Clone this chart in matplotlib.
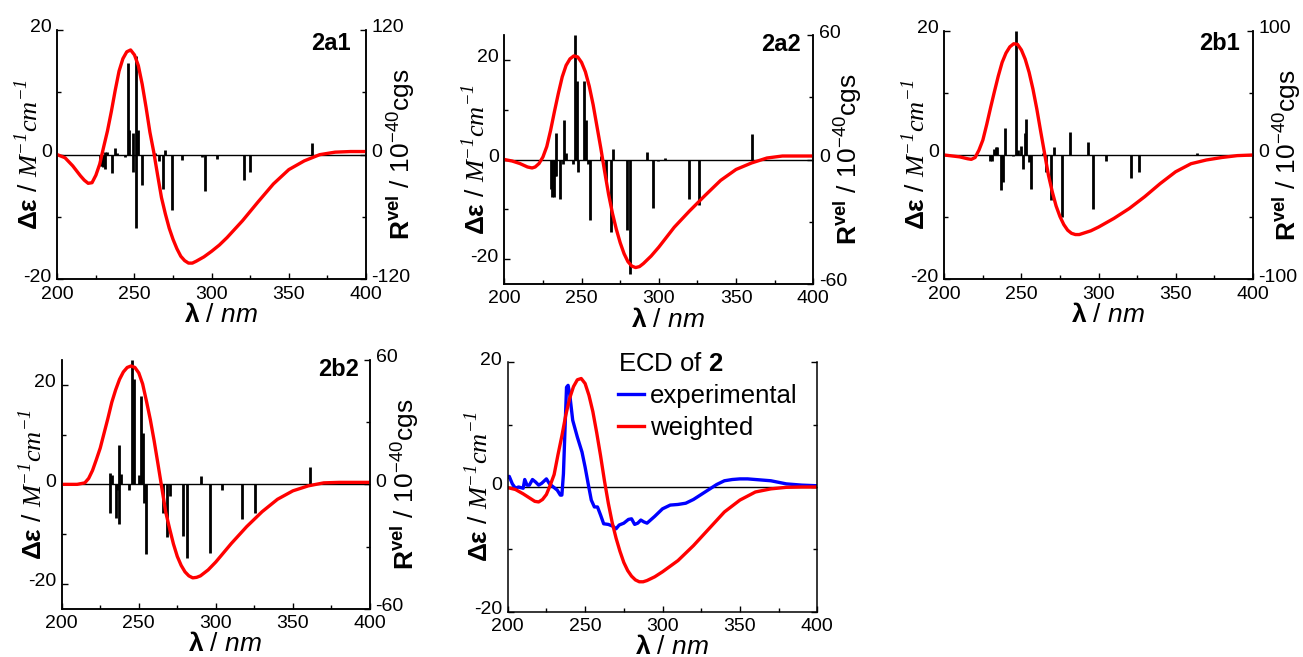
import matplotlib.pyplot as plt
from matplotlib.transforms import ScaledTranslation

plt.rcParams['font.family'] = ['Liberation Sans', 'DejaVu Sans']
plt.rcParams['axes.unicode_minus'] = False
plt.rcParams['mathtext.fontset'] = 'custom'
plt.rcParams['mathtext.rm'] = 'Liberation Sans'
plt.rcParams['mathtext.it'] = 'Liberation Sans:italic'
plt.rcParams['mathtext.bf'] = 'Liberation Sans:bold'
plt.rcParams['mathtext.sf'] = 'Liberation Serif:italic'

# calculated ECD curves (Δε)
wl_2a1 = [200, 205, 210, 215, 217.5, 220, 222.5, 225, 227.5, 230, 232.5, 235, 237.5, 240, 242.5, 245, 247.5,
          250, 252.5, 255, 257.5, 260, 262.5, 265, 267.5, 270, 272.5, 275, 277.5, 280, 282.5, 285, 287.5,
          290, 295, 300, 305, 310, 320, 330, 340, 350, 360, 370, 380, 390, 400]
de_2a1 = [0, -0.5, -1.8, -3.4, -4.1, -4.6, -4.5, -3.3, -1.5, 1.2, 3.8, 6.9, 10.3, 13.4, 15.4, 16.5, 16.8,
          16.0, 14.3, 11.3, 7.6, 3.6, 0.4, -3.3, -6.9, -9.5, -11.8, -13.6, -15.1, -16.3, -17.0, -17.4, -17.4,
          -17.1, -16.4, -15.5, -14.5, -13.3, -10.6, -7.6, -4.7, -2.4, -1.0, 0, 0.4, 0.5, 0.5]

wl_2a2 = [200, 205, 210, 215, 218, 220, 222.5, 225, 227.5, 230, 232.5, 235, 237.5, 240, 242.5, 245, 247.5,
          250, 252.5, 255, 257.5, 260, 262.5, 265, 267.5, 270, 272.5, 275, 277.5, 280, 282.5, 285, 287.5,
          290, 295, 300, 310, 320, 330, 340, 350, 360, 370, 380, 390, 400]
de_2a2 = [0, -0.3, -0.8, -1.5, -1.7, -1.5, -0.8, 0.5, 2.6, 5.9, 9.7, 13.3, 16.6, 18.9, 20.2, 20.8, 20.6,
          19.5, 17.6, 14.7, 11.0, 6.6, 2.2, -2.5, -7.0, -10.8, -14.0, -16.7, -18.9, -20.5, -21.4, -21.7, -21.5,
          -20.9, -19.4, -17.6, -13.6, -10.3, -7.2, -4.2, -2.0, -0.7, 0.3, 0.7, 0.7, 0.7]

wl_2b1 = [200, 210, 215, 217.5, 220, 222.5, 225, 227.5, 230, 232.5, 235, 237.5, 240, 242.5, 245, 247.5,
          250, 252.5, 255, 257.5, 260, 262.5, 265, 267.5, 270, 272.5, 275, 277.5, 280, 282.5, 285, 287.5,
          290, 295, 300, 310, 320, 330, 340, 350, 360, 370, 380, 390, 400]
de_2b1 = [0, -0.3, -0.6, -0.7, -0.4, 0.8, 2.4, 4.9, 7.6, 10.2, 12.7, 14.9, 16.4, 17.4, 17.9, 17.8,
          16.9, 15.4, 13.3, 10.6, 7.4, 3.8, 0.3, -3.2, -5.9, -8.2, -9.9, -11.2, -12.1, -12.6, -12.8, -12.8,
          -12.6, -12.2, -11.6, -10.2, -8.6, -6.7, -4.6, -2.7, -1.4, -0.8, -0.4, -0.1, 0]

wl_2b2 = [200, 210, 215, 217.5, 220, 222.5, 225, 227.5, 230, 232.5, 235, 237.5, 240, 242.5, 245, 247.5,
          250, 252.5, 255, 257.5, 260, 262.5, 265, 267.5, 270, 272.5, 275, 277.5, 280, 282.5, 285, 287.5,
          290, 295, 300, 310, 320, 330, 340, 350, 360, 370, 380, 390, 400]
de_2b2 = [0, 0, 0.3, 1.2, 2.8, 5.0, 7.3, 10.3, 13.3, 16.5, 19.0, 21.1, 22.6, 23.5, 23.8, 23.5,
          22.4, 20.2, 16.7, 13.0, 8.7, 4.0, -0.8, -5.6, -8.9, -12.0, -14.5, -16.3, -17.6, -18.4, -18.8, -18.7,
          -18.4, -17.2, -15.6, -11.9, -8.5, -5.5, -3.0, -1.3, -0.3, 0.3, 0.4, 0.4, 0.4]

wl_weighted = [200, 205, 210, 215, 217.5, 220, 222.5, 225, 227.5, 230, 232.5, 235, 237.5, 240, 242.5, 245,
               247.5, 250, 252.5, 255, 257.5, 260, 262.5, 265, 267.5, 270, 272.5, 275, 277.5, 280, 282.5,
               285, 287.5, 290, 295, 300, 310, 320, 330, 340, 350, 360, 370, 380, 390, 400]
de_weighted = [-0.1, -0.4, -1.1, -1.9, -2.3, -2.4, -2.0, -1.2, 0.3, 2.0, 5.2, 8.2, 11.5, 14.2, 16.1, 17.2,
               17.4, 16.6, 14.7, 12.1, 8.7, 5.0, 1.0, -2.6, -5.7, -8.2, -10.3, -12.1, -13.4, -14.3, -14.9,
               -15.2, -15.2, -15.0, -14.4, -13.6, -11.8, -9.4, -6.7, -4.0, -2.1, -0.8, -0.3, -0.05, 0, 0]

wl_exp = [200, 201, 203, 205, 207, 210, 211, 212.5, 214, 216, 218, 220, 222, 225, 227, 230, 232, 234, 235,
          236, 237, 238, 239, 240, 242, 245, 248, 250, 252, 254, 256, 258, 260, 262, 265, 268, 270, 272,
          275, 278, 280, 282, 284, 286, 288, 290, 295, 300, 305, 310, 315, 320, 325, 330, 335, 340, 345,
          350, 355, 360, 370, 380, 390, 400]
de_exp = [1.6, 1.7, 0.5, -0.2, 0, -0.2, 1.2, 0.3, 0.3, 1.2, 0.8, 0.3, 0.6, 1.3, 0.5, -0.1, -0.5, -1.3, -1.3,
          2.1, 9.1, 16.0, 16.3, 15.0, 10.7, 8.0, 5.6, 3.2, 0.5, -2.1, -3.2, -3.2, -4.5, -5.9, -6.0, -6.3, -6.7, -6.1,
          -5.8, -5.2, -5.1, -6.0, -5.8, -5.3, -5.6, -5.8, -4.7, -3.5, -2.9, -2.8, -2.6, -2.0, -1.2, -0.4, 0.4, 1.0, 1.2,
          1.3, 1.3, 1.2, 1.0, 0.5, 0.3, 0.2]

# rotational strengths (R vel, 10^-40 cgs)
st_wl_2a1 = [227.6, 228.7, 229.8, 230.7, 230.7, 232, 235.4, 237.4, 238.4, 243.8, 245.6, 246.7, 248.8, 248.8,
             251, 251, 252.3, 254.9, 263.5, 265.6, 268.7, 270, 274.5, 280.6, 294, 295.5, 303.7, 321.2, 324.8, 365.2]
st_r_2a1 = [-11, -11, -12, -14, 3, 3, -18, 6, 2, -2, 88, 24, 21, -17,
            95, -71, 24, -29, 2, -6, -33, 4, -53, -5, -2, -35, -4.5, -24, -17, 11.5]

st_wl_2a2 = [230.2, 231, 231.9, 232.8, 233.2, 233.7, 235.8, 237.8, 238.6, 239.9, 244.4, 245.7, 246.8, 247.9,
             251.6, 252.7, 254.2, 255.3, 262.4, 265.8, 268.8, 270.1, 279.6, 281.6, 292.1, 296.4, 299.7, 304.2,
             319.3, 325.8, 360.5]
st_r_2a2 = [-14, -18, -18, -8, 13, -8, -19, -2, 19, 3, -2, 60, 38, -6,
            38, 19, -2, -29, 1.6, -11, -35, 5, -34, -55, 3.7, -23.6, -0.5, 0.5,
            -18.8, -22, 12.5]

st_wl_2b1 = [229.6, 230.9, 232.2, 233.3, 234.2, 237, 238.3, 239.1, 244.3, 246.5, 247.6, 248.6, 249.9, 250.8,
             252.1, 252.7, 254.7, 256, 264.2, 265.7, 269.4, 270.9, 276.5, 281.5, 293.4, 296.6, 304.9, 320.9,
             326.5, 363.7]
st_r_2b1 = [-5, -5, 4.5, 6.7, 6.7, -28, -21.4, 22, -1, 100, 4, 1, 7, -11,
            18, 29, -5.4, -27, 1.3, -13.4, -36, 6.7, -50, 18.8, 10.7, -43.7, -4.8, -18.8,
            -14, 1.9]

st_wl_2b2 = [231.4, 231.4, 232.9, 235.5, 236.1, 237.2, 237.2, 238.3, 243.9, 245.6, 246.7, 250.2, 251.2, 252.5,
             253.4, 254.7, 265.5, 268.1, 270.3, 278.9, 281.3, 290.2, 296, 303.8, 317.2, 325.4, 361.3]
st_r_2b2 = [5.6, -13.7, 4.5, -16.4, -2.7, 19, -19.3, 4.8, -2.7, 60, 51, 4.5, 42.6, 24.6,
            -9.2, -33.8, -13.7, -25.2, -5.6, -24.9, -35.4, 4, -33, -2.7, -16.9, -13.7, 8.5]

W, H = 1303, 657
panels = [
    dict(px=(57.3, 366, 30, 279.3), wl=wl_2a1, de=de_2a1, swl=st_wl_2a1, sr=st_r_2a1,
         ylim=20, rlim=120, name='2a1', npos=(0.950, 0.947)),
    dict(px=(504.3, 813.3, 35, 284), wl=wl_2a2, de=de_2a2, swl=st_wl_2a2, sr=st_r_2a2,
         ylim=25, rlim=60, name='2a2', npos=(0.960, 0.96)),
    dict(px=(944.3, 1252.7, 30.7, 279.3), wl=wl_2b1, de=de_2b1, swl=st_wl_2b1, sr=st_r_2b1,
         ylim=20, rlim=100, name='2b1', npos=(0.957, 0.949)),
    dict(px=(61.7, 370, 360, 608.7), wl=wl_2b2, de=de_2b2, swl=st_wl_2b2, sr=st_r_2b2,
         ylim=25, rlim=60, name='2b2', npos=(0.965, 0.96)),
]

fig = plt.figure(figsize=(W / 100, H / 100), dpi=100)

ylab = r'$\mathbf{Δε}$ / $\mathsf{M}^{\mathsf{-1}}\mathsf{cm}^{\mathsf{-1}}$'
xlab = r'$\mathbf{λ}$ / $\mathit{nm}$'
rlab = r'$\mathbf{R}^{\mathbf{vel}}$ / $\mathit{10}^{\mathit{-40}}$cgs'
LBL = 19
TCK = 14
lift = ScaledTranslation(0, 4 / 100, fig.dpi_scale_trans)


def style_ax(ax, ylim, right_ticks=False):
    ax.set_xlim(200, 400)
    ax.set_xticks([200, 250, 300, 350, 400])
    ax.set_xticks([225, 275, 325, 375], minor=True)
    ax.set_xlabel(xlab, fontsize=LBL)
    ax.xaxis.set_label_coords(0.53, -0.095)
    ax.xaxis.label.set_va('top')
    ax.set_ylim(-ylim, ylim)
    ax.set_yticks([-20, 0, 20])
    ax.set_yticks([-10, 10], minor=True)
    ax.spines['top'].set_visible(False)
    for s in ax.spines.values():
        s.set_linewidth(1.1)
    ax.tick_params(which='both', direction='in', labelsize=TCK, width=1, right=right_ticks)
    ax.tick_params(which='major', length=4)
    ax.tick_params(which='minor', length=3)
    ax.tick_params(axis='x', pad=4.5)
    ax.tick_params(axis='y', pad=4)
    for t in ax.yaxis.get_major_ticks():
        t.label1.set_transform(t.label1.get_transform() + lift)
    ax.set_ylabel(ylab, fontsize=LBL)
    ax.yaxis.set_label_coords(-0.047, 0.5)


def make_axes(l, r, t, b):
    return fig.add_axes([l / W, 1 - b / H, (r - l) / W, (b - t) / H])


for p in panels:
    ax = make_axes(*p['px'])
    ax2 = ax.twinx()
    ax.set_zorder(ax2.get_zorder() + 1)
    ax.patch.set_visible(False)

    ax2.vlines(p['swl'], 0, p['sr'], color='black', lw=2)
    ax.axhline(0, color='black', lw=1)
    ax.plot(p['wl'], p['de'], color='red', lw=2.4)

    style_ax(ax, p['ylim'])

    rl = p['rlim']
    ax2.set_ylim(-rl, rl)
    ax2.set_yticks([-rl, 0, rl])
    ax2.set_yticks([-rl / 2, rl / 2], minor=True)
    ax2.spines['top'].set_visible(False)
    for s in ax2.spines.values():
        s.set_linewidth(1.1)
    ax2.tick_params(which='both', direction='in', labelsize=TCK, width=1, pad=4)
    ax2.tick_params(which='major', length=4)
    ax2.tick_params(which='minor', length=3)
    for t in ax2.yaxis.get_major_ticks():
        t.label2.set_transform(t.label2.get_transform() + lift)
    ax2.set_ylabel(rlab, fontsize=LBL)
    ax2.yaxis.set_label_coords(1.06, 0.5)

    ax.text(p['npos'][0], p['npos'][1], p['name'], transform=ax.transAxes,
            ha='right', va='center', fontsize=17, fontweight='bold')

# experimental vs weighted
ax = make_axes(507.7, 817.3, 362.3, 611.7)
ax.axhline(0, color='black', lw=1)
ax.plot(wl_exp, de_exp, color='blue', lw=2.4, label='experimental')
ax.plot(wl_weighted, de_weighted, color='red', lw=2.4, label='weighted')
style_ax(ax, 20, right_ticks=True)

leg = ax.legend(loc='upper left', bbox_to_anchor=(0.34, 1.062), frameon=False,
                title=r'ECD of $\mathbf{2}$', fontsize=18.5, title_fontsize=18.5,
                handlelength=1.0, handletextpad=0.25, labelspacing=0.32,
                borderaxespad=0, borderpad=0.2, alignment='left')

fig.savefig('out.png', dpi=100)
